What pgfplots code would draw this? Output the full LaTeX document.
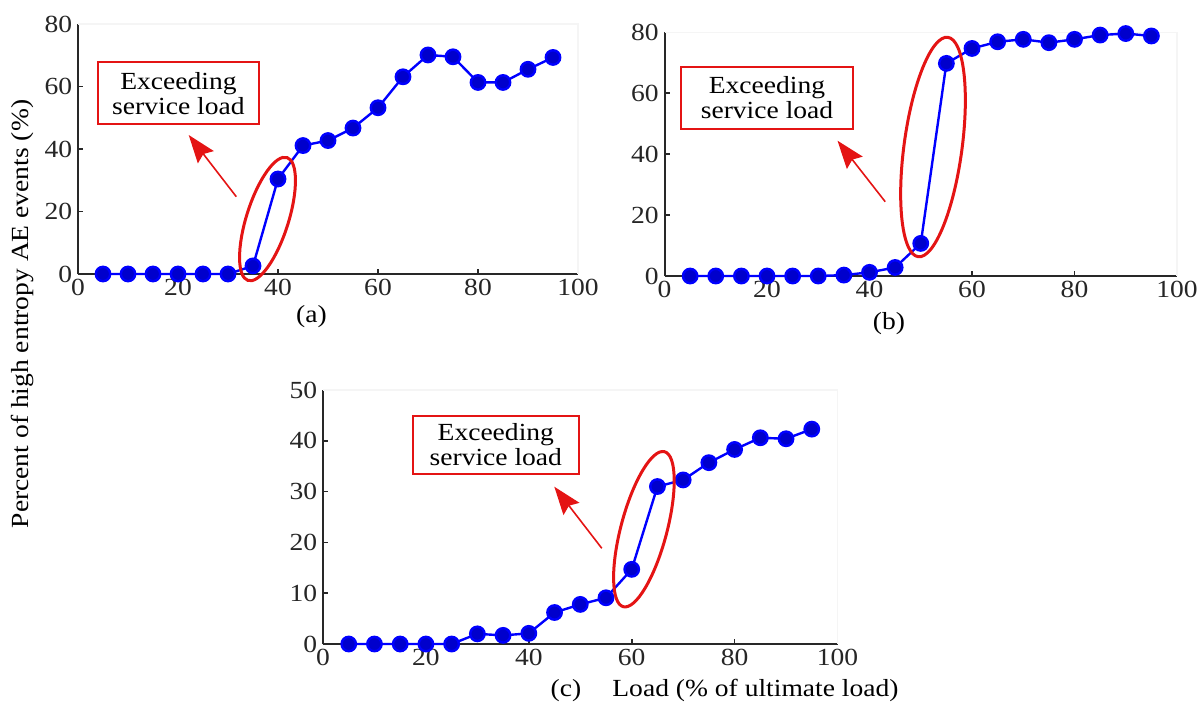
\documentclass[border=0pt]{standalone}
\usepackage{pgfplots}
\pgfplotsset{compat=1.18}
\usepackage{fontspec}
\setmainfont{Liberation Serif}[FakeStretch=1.12]
\usetikzlibrary{arrows.meta}
\definecolor{ered}{RGB}{228,20,20}
\definecolor{axgray}{RGB}{40,40,40}
\newcommand{\lfont}{\fontsize{12.3}{12.5}\selectfont}

\pgfplotsset{
 panel/.style={
  scale only axis, clip=false,
  axis x line=bottom, axis y line=left,
  axis line style={-, draw=axgray, line width=1pt},
  xmin=0, xmax=100, xtick={0,20,...,100},
  tick align=inside, major tick length=2.5pt,
  tick style={axgray, line width=0.8pt},
  /pgf/number format/assume math mode=true,
  ticklabel style={font=\lfont, text=black!85},
  xticklabel style={inner sep=0pt, anchor=north, yshift=-2.5pt},
  yticklabel style={inner sep=0pt, anchor=east, xshift=-2.75pt},
  every axis plot/.append style={blue, line width=1.2pt, mark=*, mark size=3.6pt,
     mark options={fill=blue, draw=none}},
 },
}

\pgfplotstableread{
x y
5 0
10 0
15 0
20 0
25 0
30 0
35 2.6
40 30.4
45 41.1
50 42.7
55 46.7
60 53.2
65 63.1
70 70.1
75 69.5
80 61.3
85 61.3
90 65.5
95 69.3
}\dataA

\pgfplotstableread{
x y
5 0
10 0
15 0
20 0
25 0
30 0
35 0.3
40 1.2
45 2.8
50 10.7
55 69.8
60 74.7
65 76.9
70 77.7
75 76.6
80 77.7
85 79.1
90 79.6
95 78.8
}\dataB

\pgfplotstableread{
x y
5 0
10 0
15 0
20 0
25 0
30 2.0
35 1.7
40 2.1
45 6.2
50 7.8
55 9.1
60 14.7
65 31.0
70 32.3
75 35.7
80 38.3
85 40.6
90 40.4
95 42.3
}\dataC

\begin{document}
\begin{tikzpicture}
\useasboundingbox (0,0) rectangle (601pt,-351pt);

% (a)
\begin{axis}[panel, at={(39pt,-137pt)}, anchor=south west,
  width=250pt, height=125pt, ymin=0, ymax=80, ytick={0,20,...,80}]
  \draw[black!4, line width=0.8pt] (rel axis cs:0,1) -- (rel axis cs:1,1) -- (rel axis cs:1,0);
  \addplot table[x=x,y=y] {\dataA};
\end{axis}

% (b)
\begin{axis}[panel, at={(332.25pt,-138pt)}, anchor=south west,
  width=256.25pt, height=121.85pt, ymin=0, ymax=80, ytick={0,20,...,80}]
  \draw[black!4, line width=0.8pt] (rel axis cs:0,1) -- (rel axis cs:1,1) -- (rel axis cs:1,0);
  \addplot table[x=x,y=y] {\dataB};
\end{axis}

% (c)
\begin{axis}[panel, at={(161.5pt,-322pt)}, anchor=south west,
  width=257.25pt, height=127pt, ymin=0, ymax=50, ytick={0,10,...,50}]
  \draw[black!4, line width=0.8pt] (rel axis cs:0,1) -- (rel axis cs:1,1) -- (rel axis cs:1,0);
  \addplot table[x=x,y=y] {\dataC};
\end{axis}

% ellipses
\draw[ered, line width=1.5pt, rotate around={72.4:(133.75pt,-109.5pt)}] (133.75pt,-109.5pt) ellipse [x radius=32.25pt, y radius=10.5pt];
\draw[ered, line width=1.5pt, rotate around={82.3:(466.5pt,-73.5pt)}] (466.5pt,-73.5pt) ellipse [x radius=55.35pt, y radius=14.5pt];
\draw[ered, line width=1.5pt, rotate around={75.1:(321.95pt,-264.6pt)}] (321.95pt,-264.6pt) ellipse [x radius=40.1pt, y radius=11.5pt];

% arrows
\draw[ered, line width=0.8pt, -{Stealth[length=14pt, width=10pt, inset=2pt]}] (118.15pt,-98.35pt) -- (94.35pt,-67.5pt);
\draw[ered, line width=0.8pt, -{Stealth[length=14pt, width=10pt, inset=2pt]}] (442.6pt,-100.85pt) -- (418.75pt,-70.35pt);
\draw[ered, line width=0.8pt, -{Stealth[length=14pt, width=10pt, inset=2pt]}] (300.9pt,-274.15pt) -- (277.15pt,-243.35pt);

% boxes
\node[draw=ered, line width=1.1pt, minimum width=80.65pt, minimum height=30.85pt, align=center, font=\lfont, inner sep=0pt] at (89.2pt,-46.6pt) {Exceeding\\service load};
\node[draw=ered, line width=1.1pt, minimum width=86.05pt, minimum height=31.3pt, align=center, font=\lfont, inner sep=0pt] at (383.5pt,-49pt) {Exceeding\\service load};
\node[draw=ered, line width=1.1pt, minimum width=82.85pt, minimum height=29.15pt, align=center, font=\lfont, inner sep=0pt] at (247.9pt,-222.4pt) {Exceeding\\service load};

% labels
\node[font=\lfont, anchor=base] at (155.75pt,-161pt) {(a)};
\node[font=\lfont, anchor=base] at (444.5pt,-164.5pt) {(b)};
\node[font=\lfont, anchor=base] at (283pt,-348pt) {(c)};
\node[font=\lfont, anchor=base west, inner sep=0pt] at (306pt,-348pt) {Load (\% of ultimate load)};
\node[font=\lfont, rotate=90] at (11pt,-157pt) {Percent of high entropy AE events (\%)};
\end{tikzpicture}
\end{document}
